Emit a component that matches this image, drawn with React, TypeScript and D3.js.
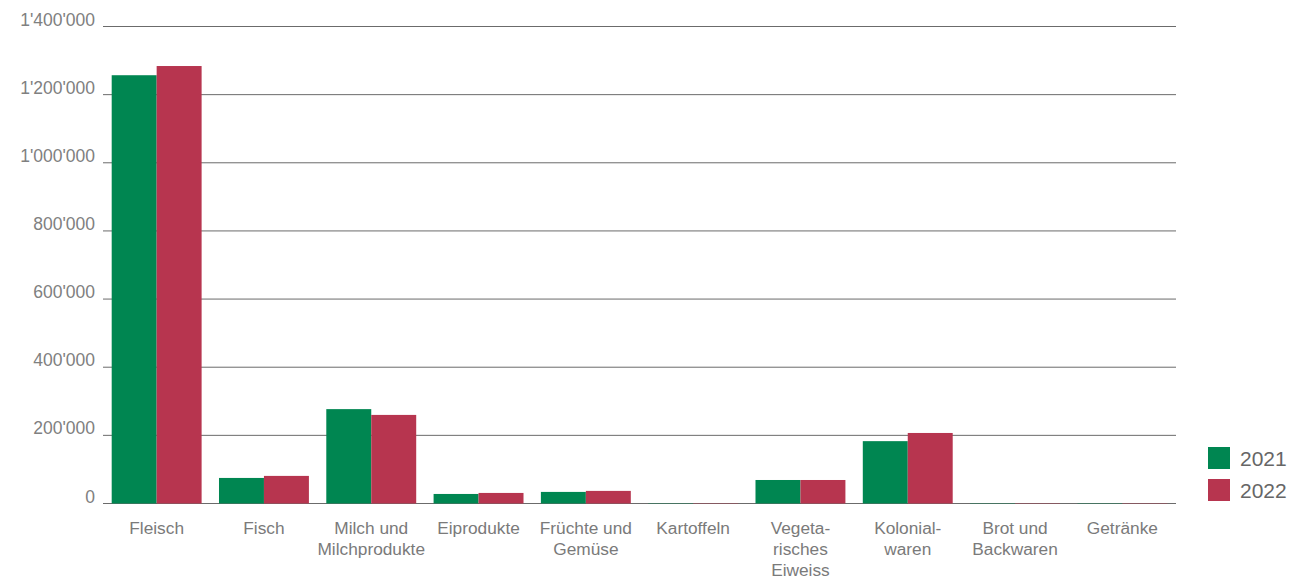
import React from "react";
import * as d3 from "d3";

const categories: string[][] = [
  ["Fleisch"],
  ["Fisch"],
  ["Milch und", "Milchprodukte"],
  ["Eiprodukte"],
  ["Früchte und", "Gemüse"],
  ["Kartoffeln"],
  ["Vegeta-", "risches", "Eiweiss"],
  ["Kolonial-", "waren"],
  ["Brot und", "Backwaren"],
  ["Getränke"],
];
const values2021 = [1257000, 75000, 277000, 28000, 34000, 1000, 69000, 183000, 1000, 1000];
const values2022 = [1284000, 81000, 260000, 31000, 37000, 1000, 69000, 207000, 1000, 1000];
const seriesNames = ["2021", "2022"];
const yTicks = [0, 200000, 400000, 600000, 800000, 1000000, 1200000, 1400000];

const COLORS = ["#008651", "#b7354f"];
const W = 1290, H = 580;
const left = 103, right = 1176, top = 26.5, bottom = 503.5;
const font = "'Liberation Sans', Arial, Helvetica, sans-serif";

const fmt = (v: number) => d3.format(",")(v).replace(/,/g, "'");

export default function App() {
  const idx = categories.map((_, i) => String(i));
  const x = d3.scaleBand().domain(idx).range([left, right]).paddingInner(0.162).paddingOuter(0.081);
  const x1 = d3.scaleBand().domain(seriesNames).range([0, x.bandwidth()]);
  const y = d3.scaleLinear().domain([0, 1400000]).range([bottom, top]);
  const series = [values2021, values2022];

  return (
    <svg width={W} height={H} style={{ position: "absolute", left: 0, top: 0, background: "#fff" }}>
      {yTicks.map((t) => (
        <g key={t}>
          <line x1={left} x2={right} y1={y(t)} y2={y(t)} stroke="#6b6b6b" strokeWidth={1} />
          <text x={95} y={y(t) - 1} textAnchor="end" fontFamily={font} fontSize={17.5} fill="#808080">
            {fmt(t)}
          </text>
        </g>
      ))}
      {series.map((vals, s) =>
        vals.map((v, i) => (
          <rect
            key={`${s}-${i}`}
            x={(x(String(i)) as number) + (x1(seriesNames[s]) as number)}
            y={y(v)}
            width={x1.bandwidth()}
            height={bottom - y(v)}
            fill={COLORS[s]}
          />
        ))
      )}
      {categories.map((lines, i) => (
        <text
          key={i}
          x={(x(String(i)) as number) + x.bandwidth() / 2}
          y={534}
          textAnchor="middle"
          fontFamily={font}
          fontSize={17.3}
          fill="#7a7a7a"
        >
          {lines.map((l, j) => (
            <tspan key={j} x={(x(String(i)) as number) + x.bandwidth() / 2} dy={j === 0 ? 0 : 21}>
              {l}
            </tspan>
          ))}
        </text>
      ))}
      {seriesNames.map((n, s) => (
        <g key={n} transform={`translate(1208, ${447 + s * 32})`}>
          <rect width={22} height={22} fill={COLORS[s]} />
          <text x={32} y={19} fontFamily={font} fontSize={21} fill="#666">
            {n}
          </text>
        </g>
      ))}
    </svg>
  );
}
